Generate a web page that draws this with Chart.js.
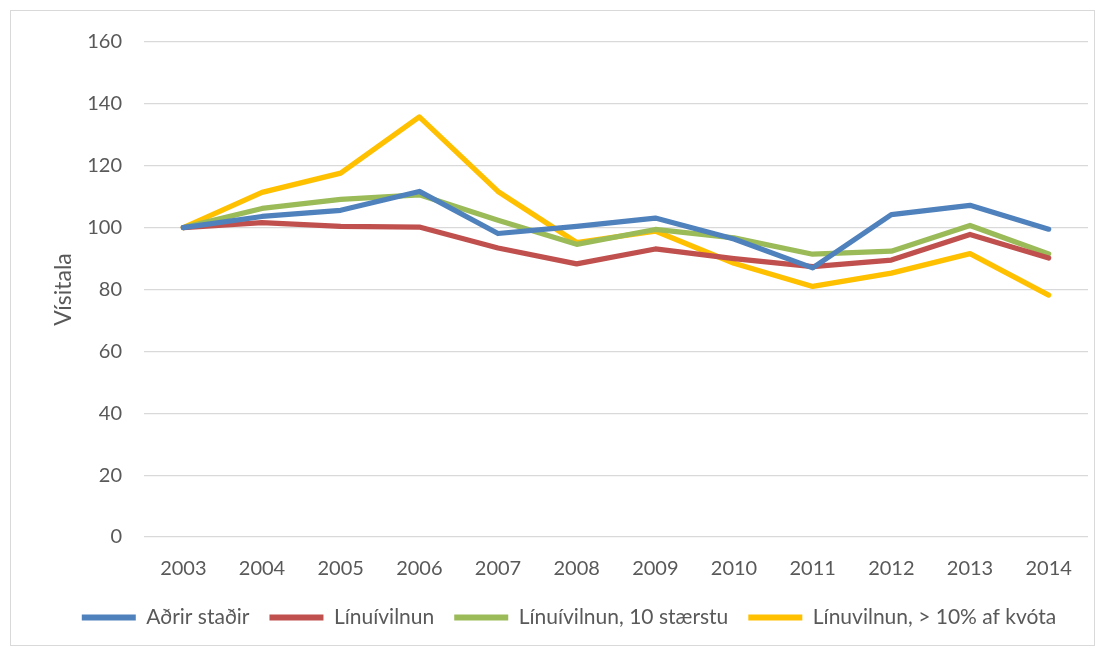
<!DOCTYPE html>
<html>
<head>
<meta charset="utf-8">
<script src="https://cdn.jsdelivr.net/npm/chart.js@4/dist/chart.umd.min.js"></script>
<style>
  html, body { margin: 0; padding: 0; background: #fff; }
  #wrap { position: relative; width: 1105px; height: 650px; }
  #frame { position: absolute; left: 10px; top: 10px; width: 1085px; height: 636px; border: 1px solid #d9d9d9; box-sizing: border-box; }
  canvas { position: absolute; left: 0; top: 0; }
</style>
</head>
<body>
<div id="wrap">
  <div id="frame"></div>
  <canvas id="chart" width="1105" height="650"></canvas>
</div>
<script>
// Index values (2003 = 100)
const years = ['2003', '2004', '2005', '2006', '2007', '2008', '2009', '2010', '2011', '2012', '2013', '2014'];
const adrirStadir = [100, 103.6, 105.6, 111.7, 98.1, 100.4, 103.1, 96.3, 87.0, 104.2, 107.2, 99.5];
const linuivilnun = [100, 101.6, 100.4, 100.2, 93.4, 88.3, 93.1, 90.0, 87.4, 89.5, 97.8, 90.2];
const linuivilnun10 = [100, 106.2, 109.1, 110.6, 102.4, 94.6, 99.4, 96.7, 91.4, 92.4, 100.7, 91.5];
const linuvilnun10pct = [100, 111.4, 117.6, 135.8, 111.7, 95.2, 98.9, 88.5, 81.0, 85.3, 91.6, 78.2];
const yTicks = [0, 20, 40, 60, 80, 100, 120, 140, 160];

const tickColor = '#595959';
const font = 'Lato, "Open Sans", sans-serif';

function series(label, data, color) {
  return {
    label: label,
    data: data,
    borderColor: color,
    backgroundColor: color,
    borderWidth: 5.25,
    borderCapStyle: 'round',
    borderJoinStyle: 'round',
    pointRadius: 0,
    pointHoverRadius: 0,
    tension: 0
  };
}

new Chart(document.getElementById('chart'), {
  type: 'line',
  data: {
    labels: years,
    datasets: [
      series('Aðrir staðir', adrirStadir, '#4F81BD'),
      series('Línuívilnun', linuivilnun, '#C0504D'),
      series('Línuívilnun, 10 stærstu', linuivilnun10, '#9BBB59'),
      series('Línuvilnun, > 10% af kvóta', linuvilnun10pct, '#FFC000')
    ]
  },
  options: {
    responsive: false,
    animation: false,
    layout: { padding: { top: 42, left: 50, right: 17, bottom: 12 } },
    plugins: {
      tooltip: { enabled: false },
      legend: {
        position: 'bottom',
        labels: {
          boxWidth: 54,
          boxHeight: 6,
          padding: 20,
          color: tickColor,
          font: { family: font, size: 21 },
          generateLabels: chart => Chart.defaults.plugins.legend.labels.generateLabels(chart)
            .map(item => Object.assign(item, { lineWidth: 0 }))
        }
      }
    },
    scales: {
      x: {
        offset: true,
        grid: { display: false, drawTicks: false },
        border: { display: false },
        ticks: { color: tickColor, padding: 20, font: { family: font, size: 20 } },
        afterFit: scale => { scale.height = 50; }
      },
      y: {
        min: 0,
        max: 160,
        afterBuildTicks: scale => { scale.ticks = yTicks.map(v => ({ value: v })); },
        grid: { color: '#d9d9d9', lineWidth: 1.25, drawTicks: false },
        border: { display: false },
        ticks: { color: tickColor, padding: 22, font: { family: font, size: 20 } },
        title: {
          display: true,
          text: 'Vísitala',
          color: tickColor,
          padding: 0,
          font: { family: font, size: 23 }
        },
        afterFit: scale => { scale.width = 94; }
      }
    }
  }
});
</script>
</body>
</html>
